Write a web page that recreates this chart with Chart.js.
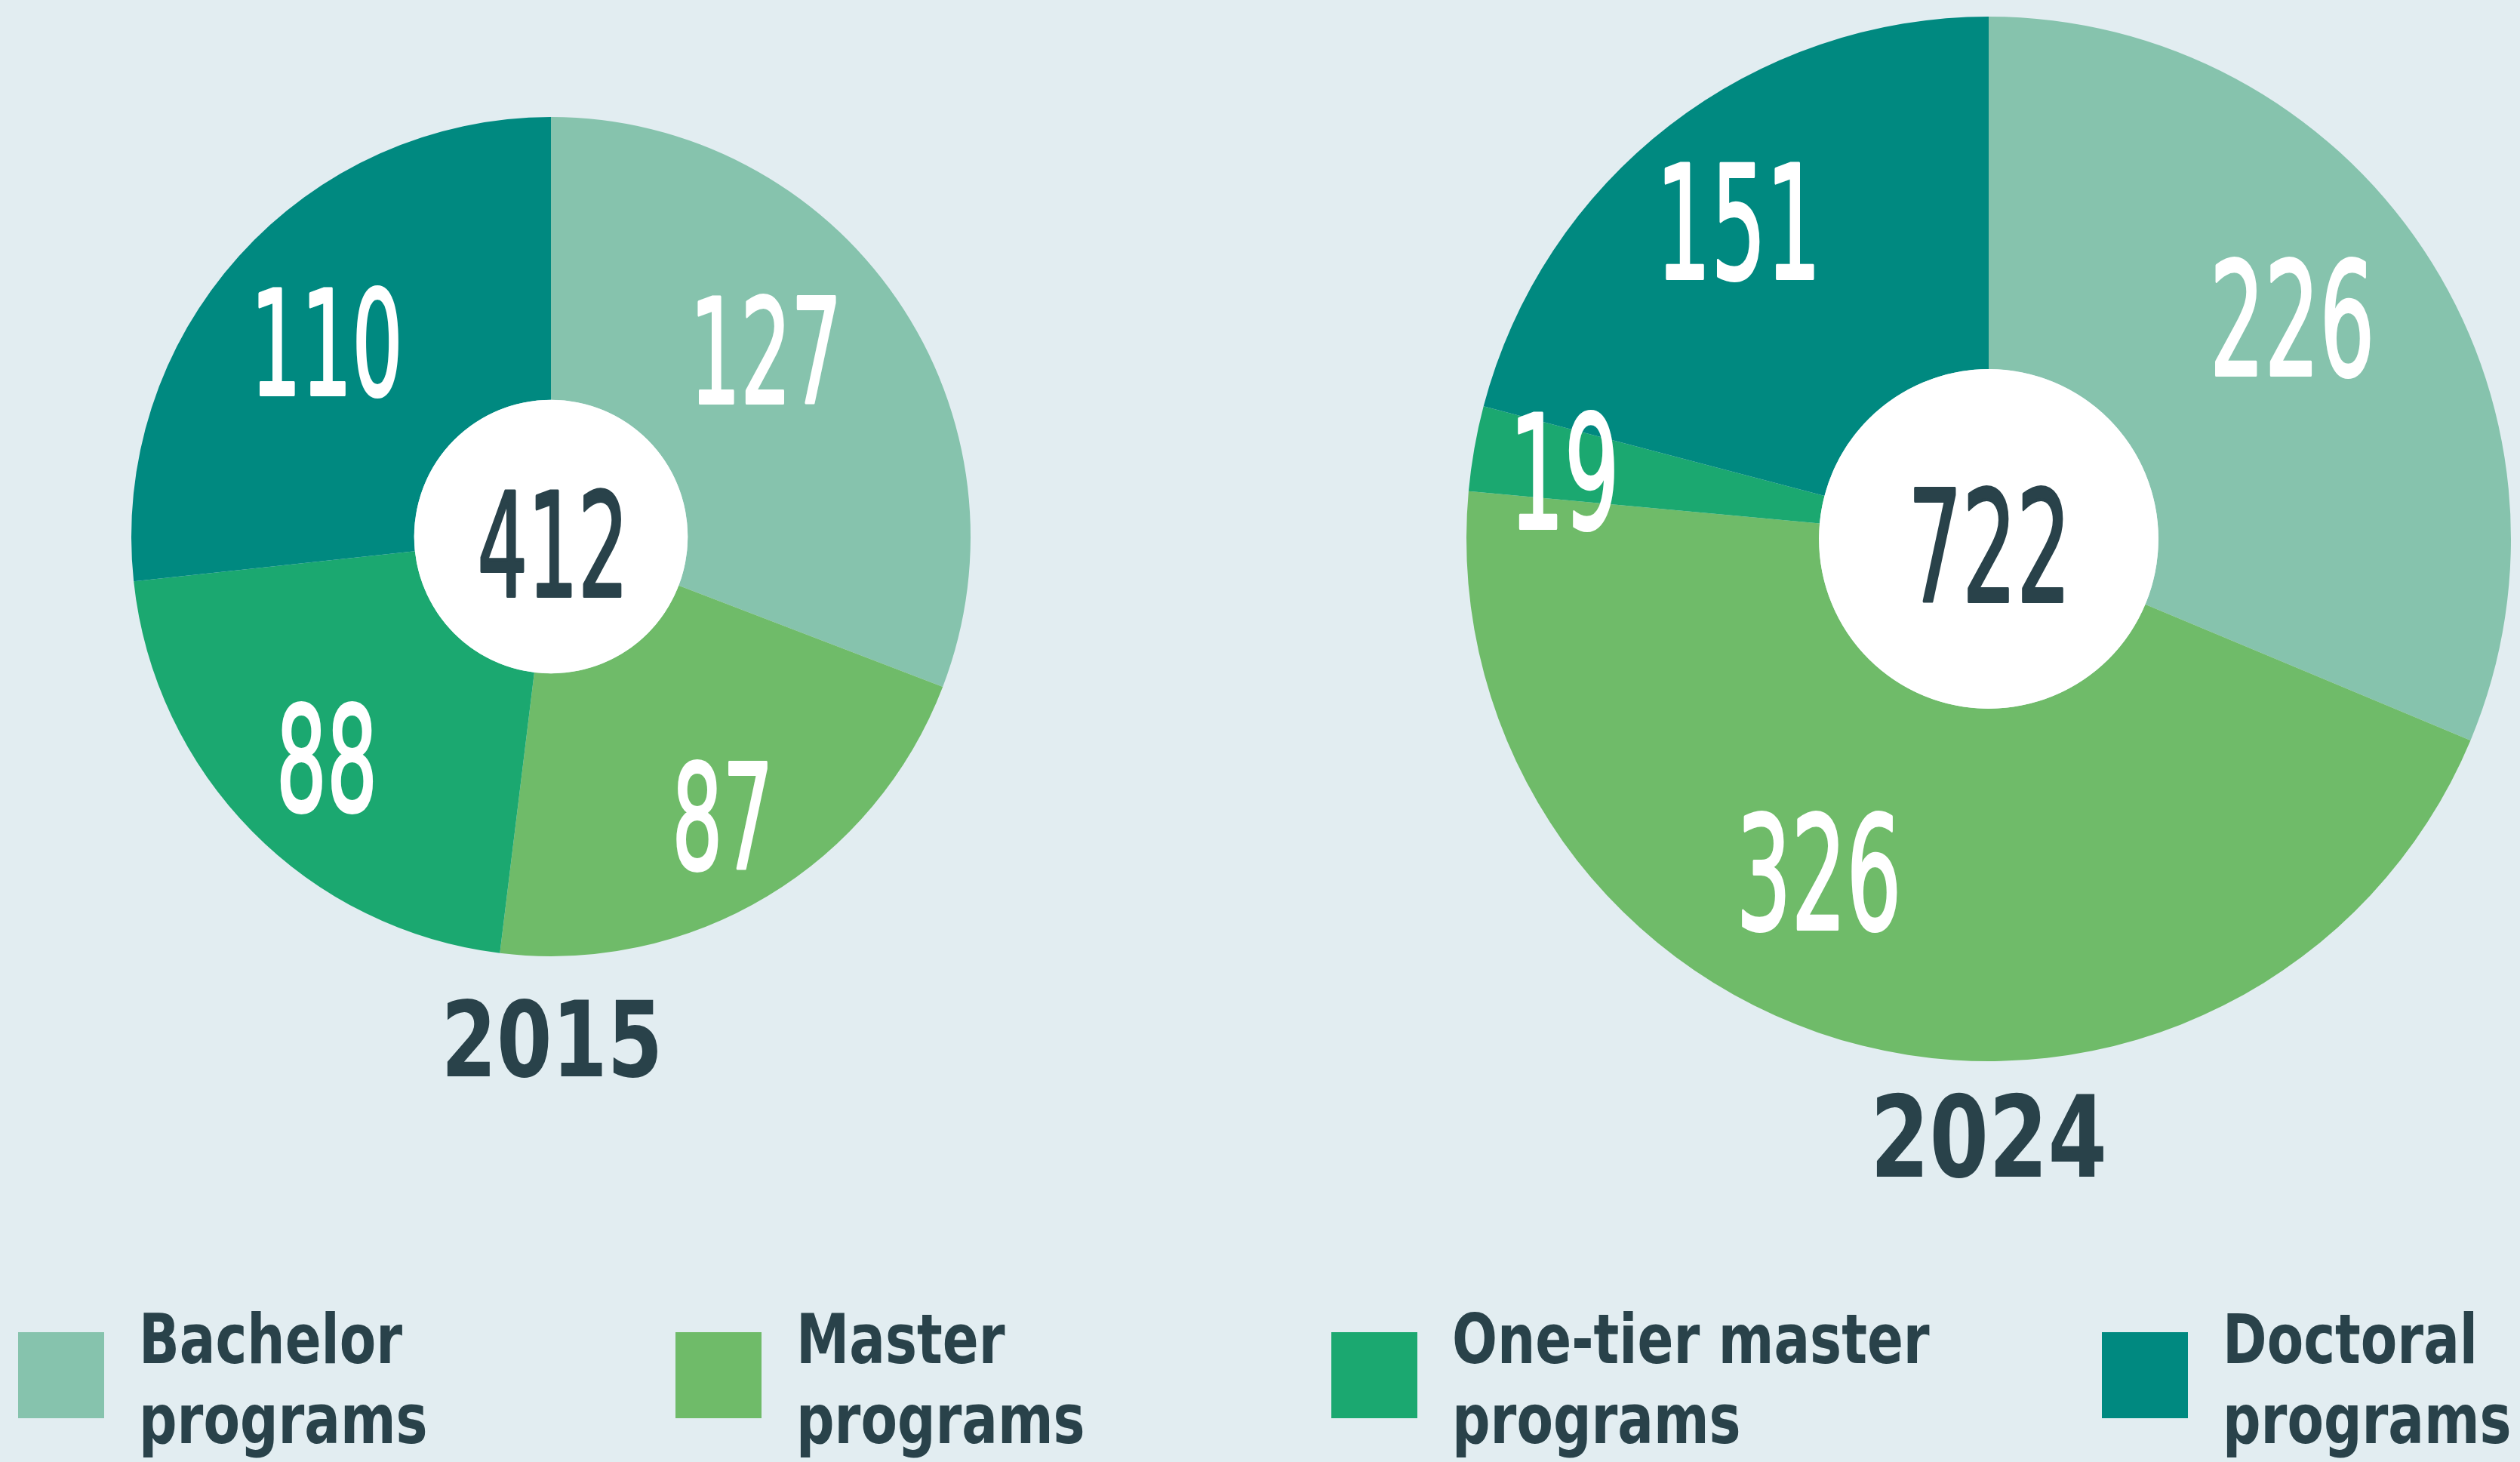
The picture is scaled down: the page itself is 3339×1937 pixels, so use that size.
<!DOCTYPE html>
<html><head><meta charset="utf-8">
<script src="https://cdn.jsdelivr.net/npm/chart.js@4.4.1/dist/chart.umd.min.js"></script>
<style>
html,body{margin:0;padding:0;background:#e2edf1;width:3339px;height:1937px;overflow:hidden}
canvas{position:absolute;left:0;top:0}
</style></head><body>
<canvas id="c2015" width="3339" height="1937"></canvas>
<canvas id="c2024" width="3339" height="1937"></canvas>
<script>
// ---- data ----
const categories = ['Bachelor programs', 'Master programs', 'One-tier master programs', 'Doctoral programs'];
const legendLines = [['Bachelor', 'programs'], ['Master', 'programs'], ['One-tier master', 'programs'], ['Doctoral', 'programs']];
const years = ['2015', '2024'];
const values2015 = [127, 87, 88, 110];
const values2024 = [226, 326, 19, 151];

// ---- style ----
const colors = ['#86c3ad', '#6fbb69', '#1ba870', '#008980'];
const dark = '#29424a';
const W = 3339, H = 1937;

function fontFor(size, weight) { return weight + ' ' + size + 'px "DejaVu Sans", sans-serif'; }
function capRatio(ctx, weight) {
  ctx.font = fontFor(100, weight);
  return ctx.measureText('H').actualBoundingBoxAscent / 100;
}
function drawNum(ctx, text, cx, cy, capH, weight, color, adv, strokeW) {
  ctx.save();
  const size = capH / capRatio(ctx, weight);
  ctx.font = fontFor(size, weight);
  const sx = adv * capH / ctx.measureText('0').width;
  const m = ctx.measureText(text);
  ctx.translate(cx, cy + capH / 2);
  ctx.scale(sx, 1);
  ctx.textAlign = 'left';
  ctx.textBaseline = 'alphabetic';
  const x0 = -(m.actualBoundingBoxRight - m.actualBoundingBoxLeft) / 2;
  ctx.fillStyle = color;
  ctx.fillText(text, x0, 0);
  if (strokeW) {
    ctx.lineWidth = strokeW; ctx.strokeStyle = color; ctx.lineJoin = 'round';
    ctx.strokeText(text, x0, 0);
  }
  ctx.restore();
}

const pieLabels = {
  id: 'pieLabels',
  afterDatasetsDraw(chart, args, o) {
    const ctx = chart.ctx;
    const arcs = chart.getDatasetMeta(0).data;
    const c = arcs[0].getProps(['x', 'y', 'innerRadius', 'outerRadius'], true);
    ctx.save();
    ctx.beginPath(); ctx.arc(c.x, c.y, c.innerRadius, 0, Math.PI * 2);
    ctx.fillStyle = '#ffffff'; ctx.fill();
    ctx.restore();
    const data = chart.data.datasets[0].data;
    arcs.forEach((arc, i) => {
      const p = arc.getProps(['startAngle', 'endAngle'], true);
      const a = (p.startAngle + p.endAngle) / 2 + o.shift[i] * Math.PI / 180;
      const r = c.outerRadius * o.frac[i];
      drawNum(ctx, String(data[i]), c.x + Math.cos(a) * r, c.y + Math.sin(a) * r, o.cap, 'normal', '#ffffff', 0.48, o.stroke);
    });
    const total = data.reduce((s, v) => s + v, 0);
    drawNum(ctx, String(total), c.x, c.y + o.centerDy, o.centerCap, 'normal', dark, 0.48, o.stroke);
    drawNum(ctx, o.year, c.x + 2, c.y + c.outerRadius + o.yearGap, o.yearCap, 'bold', dark, 0.72, 0);
  }
};

const legendPlugin = {
  id: 'legendPlugin',
  afterDraw(chart, args, o) {
    if (!o.show) return;
    const ctx = chart.ctx;
    const capH = 66;
    ctx.save();
    const size = capH / capRatio(ctx, 'bold');
    ctx.font = fontFor(size, 'bold');
    const mb = ctx.measureText('Bachelor');
    const sx = 5.2 * capH / (mb.actualBoundingBoxRight + mb.actualBoundingBoxLeft);
    o.xs.forEach((x, i) => {
      ctx.fillStyle = colors[i];
      ctx.fillRect(x, 1765, 114, 114);
      ctx.fillStyle = dark;
      ctx.textAlign = 'left'; ctx.textBaseline = 'alphabetic';
      legendLines[i].forEach((line, j) => {
        ctx.save();
        ctx.translate(x + 160, 1806 + j * 106);
        ctx.scale(sx, 1);
        ctx.fillText(line, 0, 0);
        ctx.restore();
      });
    });
    ctx.restore();
  }
};

function makeChart(id, values, padding, radius, cutout, labelOpts, legendShow) {
  return new Chart(document.getElementById(id), {
    type: 'doughnut',
    data: {
      labels: categories,
      datasets: [{ data: values, backgroundColor: colors, borderWidth: 0, hoverOffset: 0 }]
    },
    options: {
      responsive: false, animation: false, devicePixelRatio: 1, events: [],
      radius: radius, cutout: cutout,
      layout: { padding: padding },
      plugins: {
        legend: { display: false }, tooltip: { enabled: false },
        pieLabels: labelOpts,
        legendPlugin: { show: legendShow, xs: [24, 895, 1764, 2785] }
      }
    },
    plugins: [pieLabels, legendPlugin]
  });
}

makeChart('c2015', values2015,
  { left: 0, right: W - 1460, top: 0, bottom: H - 1422 }, 556, '32.6%',
  { frac: [0.68, 0.78, 0.75, 0.705], shift: [-6.3, -0.5, 0, -0.7], cap: 140, centerCap: 139, centerDy: 9,
    year: years[0], yearCap: 102, yearGap: 108, stroke: 4 }, false);

makeChart('c2024', values2024,
  { left: 1931, right: 0, top: 0, bottom: H - 1428 }, 692, '32.5%',
  { frac: [0.72, 0.715, 0.82, 0.773], shift: [-2.4, 13, -0.8, -0.5], cap: 152, centerCap: 150, centerDy: 8,
    year: years[1], yearCap: 109, yearGap: 98, stroke: 4 }, true);
</script>
</body></html>
